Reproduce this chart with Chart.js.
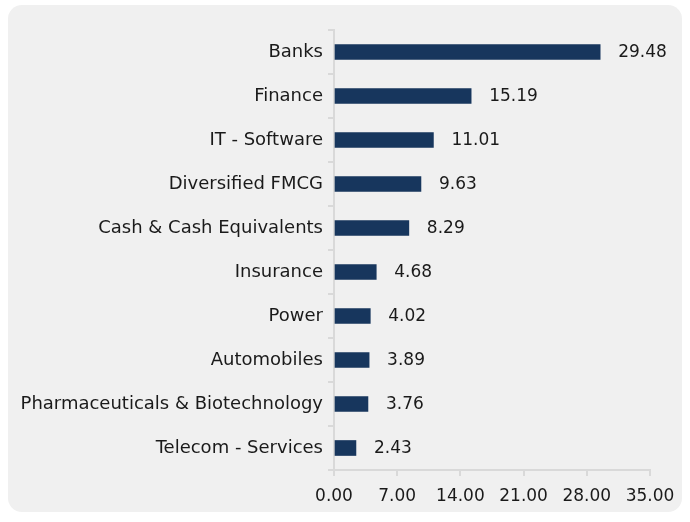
<!DOCTYPE html>
<html>
<head>
<meta charset="utf-8">
<script src="https://cdn.jsdelivr.net/npm/chart.js@4"></script>
<style>
  body { margin: 0; background: #ffffff; }
  #wrap { width: 690px; height: 522px; }
</style>
</head>
<body>
<div id="wrap"><canvas id="myChart" width="690" height="522"></canvas></div>
<script>
const categories = ["Banks", "Finance", "IT - Software", "Diversified FMCG", "Cash & Cash Equivalents",
  "Insurance", "Power", "Automobiles", "Pharmaceuticals & Biotechnology", "Telecom - Services"];
const values = [29.48, 15.19, 11.01, 9.63, 8.29, 4.68, 4.02, 3.89, 3.76, 2.43];
const xTicks = [0, 7, 14, 21, 28, 35];

const fontFamily = "'DejaVu Sans', sans-serif";
const axisColor = "#d9d9d9";

// light gray rounded panel behind the chart
const panel = {
  id: "panel",
  beforeDraw(chart) {
    const c = chart.ctx;
    c.save();
    c.fillStyle = "#f0f0f0";
    c.beginPath();
    c.roundRect(8, 5, 674, 507, 14);
    c.fill();
    c.restore();
  }
};

// value labels right of each bar
const valueLabels = {
  id: "valueLabels",
  afterDatasetsDraw(chart) {
    const c = chart.ctx;
    const meta = chart.getDatasetMeta(0);
    c.save();
    c.font = "17px " + fontFamily;
    c.fillStyle = "#1a1a1a";
    c.textAlign = "left";
    c.textBaseline = "middle";
    meta.data.forEach((bar, i) => {
      c.fillText(values[i].toFixed(2), bar.x + 18, bar.y + 1);
    });
    c.restore();
  }
};

new Chart(document.getElementById("myChart"), {
  type: "bar",
  data: {
    labels: categories,
    datasets: [{
      data: values,
      backgroundColor: "#17365d",
      barThickness: 15
    }]
  },
  options: {
    indexAxis: "y",
    responsive: false,
    animation: false,
    layout: { padding: { top: 30, right: 40, bottom: 10, left: 0 } },
    plugins: { legend: { display: false }, tooltip: { enabled: false } },
    scales: {
      x: {
        min: 0,
        max: 35,
        afterBuildTicks(scale) { scale.ticks = xTicks.map(v => ({ value: v })); },
        afterFit(scale) { scale.height = 42; },
        ticks: {
          callback: v => Number(v).toFixed(2),
          color: "#1a1a1a",
          font: { family: fontFamily, size: 17 },
          padding: 10,
          maxRotation: 0
        },
        grid: { drawOnChartArea: false, color: axisColor, lineWidth: 2, tickLength: 6 },
        border: { color: axisColor, width: 2 }
      },
      y: {
        afterFit(scale) { scale.width = 334; },
        ticks: {
          color: "#1a1a1a",
          font: { family: fontFamily, size: 18 },
          padding: 5
        },
        grid: { drawOnChartArea: false, color: axisColor, lineWidth: 2, tickLength: 6 },
        border: { color: axisColor, width: 2 }
      }
    }
  },
  plugins: [panel, valueLabels]
});
</script>
</body>
</html>
